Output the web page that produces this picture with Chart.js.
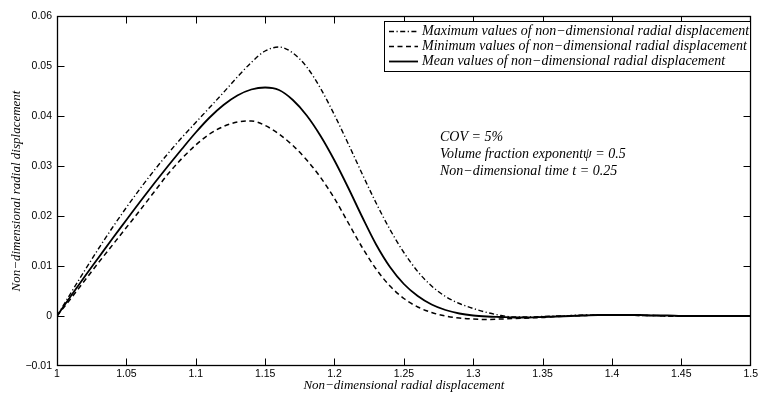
<!DOCTYPE html>
<html>
<head>
<meta charset="utf-8">
<script src="https://cdn.jsdelivr.net/npm/chart.js@4"></script>
<style>
  html, body { margin: 0; padding: 0; background: #fff; }
  canvas { display: block; }
</style>
</head>
<body>
<canvas id="chart" width="760" height="393"></canvas>
<script>
// radial position (x) and the three displacement curves
const xValues = [
  1.00, 1.01, 1.02, 1.03, 1.04, 1.05, 1.06, 1.07, 1.08, 1.09,
  1.10, 1.11, 1.12, 1.13, 1.14, 1.15, 1.16, 1.17, 1.18, 1.19,
  1.20, 1.21, 1.22, 1.23, 1.24, 1.25, 1.26, 1.27, 1.28, 1.29,
  1.30, 1.31, 1.32, 1.33, 1.34, 1.35, 1.36, 1.37, 1.38, 1.39,
  1.40, 1.41, 1.42, 1.43, 1.44, 1.45, 1.46, 1.47, 1.48, 1.49, 1.50,
];
const maxValues = [
  0, 0.0046, 0.0091, 0.0135, 0.0177, 0.0217, 0.0255, 0.0291, 0.0325, 0.0357,
  0.0387, 0.0417, 0.0447, 0.0478, 0.0507, 0.0530, 0.0538, 0.0526, 0.0498, 0.0455,
  0.0402, 0.0344, 0.0284, 0.0226, 0.0173, 0.0127, 0.0089, 0.0060, 0.0039, 0.0025,
  0.0015, 0.0007, 0.0001, -0.0002, -0.0002, -0.0001, 0.0000, 0.0001, 0.0002, 0.0002,
  0.0002, 0.0002, 0.0001, 0.0001, 0, 0, 0, 0, 0, 0, 0,
];
const minValues = [
  0, 0.0035, 0.0071, 0.0107, 0.0142, 0.0177, 0.0212, 0.0248, 0.0284, 0.0315,
  0.0342, 0.0364, 0.0379, 0.0388, 0.0390, 0.0381, 0.0364, 0.0341, 0.0312, 0.0277,
  0.0235, 0.0186, 0.0137, 0.0094, 0.0060, 0.0035, 0.0018, 0.0007, 0.0000, -0.0004,
  -0.0006, -0.0007, -0.0006, -0.0005, -0.0004, -0.0003, -0.0001, 0.0000, 0.0001, 0.0002,
  0.0002, 0.0002, 0.0001, 0.0001, 0, 0, 0, 0, 0, 0, 0,
];
const meanValues = [
  0, 0.0040, 0.0079, 0.0117, 0.0155, 0.0192, 0.0229, 0.0265, 0.0300, 0.0334,
  0.0367, 0.0397, 0.0422, 0.0441, 0.0453, 0.0457, 0.0452, 0.0432, 0.0401, 0.0360,
  0.0311, 0.0256, 0.0198, 0.0143, 0.0098, 0.0064, 0.0040, 0.0023, 0.0012, 0.0005,
  0.0001, -0.0001, -0.0002, -0.0003, -0.0003, -0.0002, -0.0001, 0.0000, 0.0001, 0.0002,
  0.0002, 0.0002, 0.0002, 0.0001, 0.0001, 0, 0, 0, 0, 0, 0,
];

const xTicks = [1, 1.05, 1.1, 1.15, 1.2, 1.25, 1.3, 1.35, 1.4, 1.45, 1.5];
const yTicks = [-0.01, 0, 0.01, 0.02, 0.03, 0.04, 0.05, 0.06];

const seriesLabels = [
  'Maximum values of non\u2212dimensional radial displacement',
  'Minimum values of non\u2212dimensional radial displacement',
  'Mean values of non\u2212dimensional radial displacement',
];
const noteLines = [
  'COV = 5%',
  'Volume fraction exponent\u03c8 = 0.5',
  'Non\u2212dimensional time t = 0.25',
];
const axisTitle = 'Non\u2212dimensional radial displacement';

const serif = '"Liberation Serif", "Times New Roman", serif';
const sans = '"Liberation Sans", Arial, sans-serif';

function toPoints(ys) {
  return xValues.map((x, i) => ({x: x, y: ys[i]}));
}

function tickText(v) {
  return String(v).replace('-', '\u2212');
}

// matlab style frame, inward ticks, boxed legend and the note text
const matlabLook = {
  id: 'matlabLook',
  afterDraw(chart) {
    const {ctx, chartArea: a, scales} = chart;
    const L = Math.round(a.left) + 0.5;
    const R = Math.round(a.right) - 0.5;
    const T = Math.round(a.top) + 0.5;
    const B = Math.round(a.bottom) - 0.5;
    const tick = 7;

    ctx.save();
    ctx.strokeStyle = '#000';
    ctx.lineWidth = 1.3;
    ctx.setLineDash([]);
    ctx.strokeRect(L, T, R - L, B - T);

    ctx.lineWidth = 1;
    ctx.beginPath();
    xTicks.forEach((v) => {
      const px = Math.min(R, Math.round(scales.x.getPixelForValue(v)) + 0.5);
      ctx.moveTo(px, B); ctx.lineTo(px, B - tick);
      ctx.moveTo(px, T); ctx.lineTo(px, T + tick);
    });
    yTicks.forEach((v) => {
      const py = Math.min(B, Math.round(scales.y.getPixelForValue(v)) + 0.5);
      ctx.moveTo(L, py); ctx.lineTo(L + tick, py);
      ctx.moveTo(R, py); ctx.lineTo(R - tick, py);
    });
    ctx.stroke();

    // legend
    const box = {left: 384.5, top: 21.5, right: 750.5, bottom: 71.5};
    ctx.fillStyle = '#fff';
    ctx.fillRect(box.left, box.top, box.right - box.left, box.bottom - box.top);
    ctx.lineWidth = 1;
    ctx.strokeRect(box.left, box.top, box.right - box.left, box.bottom - box.top);
    ctx.font = 'italic 14px ' + serif;
    ctx.textBaseline = 'middle';
    ctx.textAlign = 'left';
    chart.data.datasets.forEach((ds, i) => {
      const y = box.top + 10 + i * 15;
      ctx.beginPath();
      ctx.setLineDash(ds.borderDash || []);
      ctx.lineWidth = ds.borderWidth;
      ctx.strokeStyle = '#000';
      ctx.moveTo(389, y);
      ctx.lineTo(418, y);
      ctx.stroke();
      ctx.setLineDash([]);
      ctx.fillStyle = '#000';
      ctx.fillText(ds.label, 422, y);
    });

    // notes
    ctx.font = 'italic 14px ' + serif;
    noteLines.forEach((line, i) => {
      ctx.fillText(line, 440, 137 + i * 17);
    });
    ctx.restore();
  },
};

const ctx = document.getElementById('chart').getContext('2d');
new Chart(ctx, {
  type: 'line',
  data: {
    datasets: [
      {
        label: seriesLabels[0],
        data: toPoints(maxValues),
        borderColor: '#000',
        borderWidth: 1.4,
        borderDash: [5, 2.5, 1.2, 2.5],
      },
      {
        label: seriesLabels[1],
        data: toPoints(minValues),
        borderColor: '#000',
        borderWidth: 1.5,
        borderDash: [5, 3.5],
      },
      {
        label: seriesLabels[2],
        data: toPoints(meanValues),
        borderColor: '#000',
        borderWidth: 1.8,
      },
    ],
  },
  options: {
    responsive: false,
    devicePixelRatio: 1,
    animation: false,
    events: [],
    elements: {
      point: {radius: 0},
      line: {cubicInterpolationMode: 'monotone', fill: false},
    },
    layout: {padding: {top: 16, right: 6, left: 0, bottom: 0}},
    plugins: {
      legend: {display: false},
      tooltip: {enabled: false},
    },
    scales: {
      x: {
        type: 'linear',
        min: 1,
        max: 1.5,
        afterBuildTicks: (axis) => {
          axis.ticks = xTicks.map((v) => ({value: v}));
        },
        afterFit: (axis) => {
          axis.height = 27;
        },
        grid: {display: false, drawTicks: false},
        border: {display: false},
        ticks: {
          color: '#000',
          font: {family: sans, size: 10.5},
          padding: 2,
          maxRotation: 0,
          autoSkip: false,
          callback: (v) => tickText(v),
        },
        title: {
          display: true,
          text: axisTitle,
          color: '#000',
          font: {family: serif, size: 13, style: 'italic'},
          padding: {top: 0, bottom: 0},
        },
      },
      y: {
        type: 'linear',
        min: -0.01,
        max: 0.06,
        afterBuildTicks: (axis) => {
          axis.ticks = yTicks.map((v) => ({value: v}));
        },
        afterFit: (axis) => {
          axis.width = 57;
        },
        grid: {display: false, drawTicks: false},
        border: {display: false},
        ticks: {
          color: '#000',
          font: {family: sans, size: 10.5},
          padding: 5,
          autoSkip: false,
          callback: (v) => tickText(v),
        },
        title: {
          display: true,
          text: axisTitle,
          color: '#000',
          font: {family: serif, size: 13, style: 'italic'},
          padding: {top: 9, bottom: 0},
        },
      },
    },
  },
  plugins: [matlabLook],
});
</script>
</body>
</html>
